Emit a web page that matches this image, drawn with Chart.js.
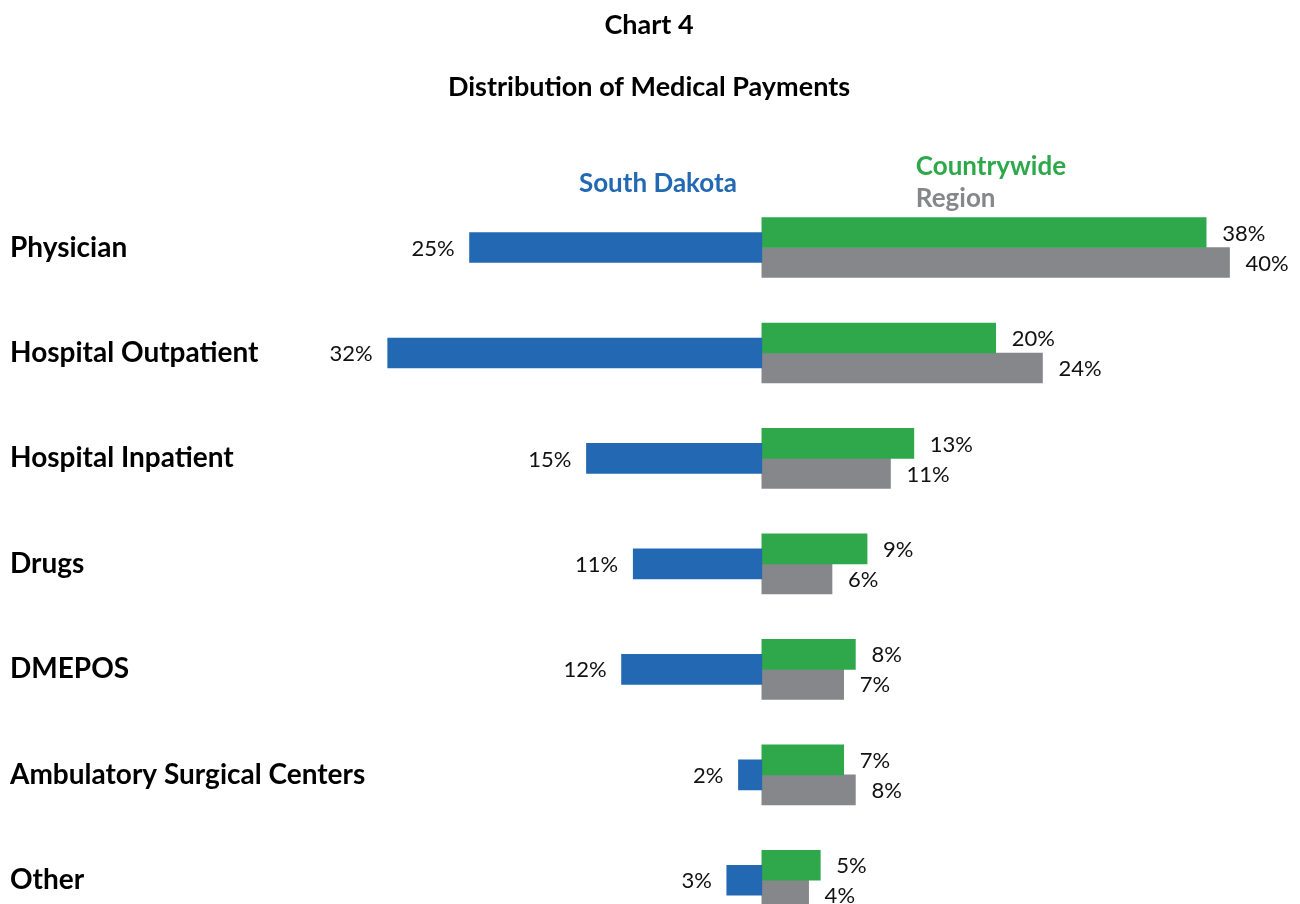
<!DOCTYPE html>
<html>
<head>
<meta charset="utf-8">
<script src="https://cdn.jsdelivr.net/npm/chart.js@4"></script>
<style>
  body { margin: 0; background: #fff; }
  .wrap { position: relative; width: 1300px; height: 904px; overflow: hidden; }
  canvas { position: absolute; left: 0; top: 0; }
</style>
</head>
<body>
<div class="wrap"><canvas id="chart" width="1300" height="940"></canvas></div>
<script>
const categories = ["Physician", "Hospital Outpatient", "Hospital Inpatient", "Drugs", "DMEPOS", "Ambulatory Surgical Centers", "Other"];
const southDakota = [25, 32, 15, 11, 12, 2, 3];
const countrywide = [38, 20, 13, 9, 8, 7, 5];
const region = [40, 24, 11, 6, 7, 8, 4];

const BLUE = "#2368b3";
const GREEN = "#2fa84b";
const GRAY = "#86878b";
const FONT = "Lato, 'Open Sans', sans-serif";

// percent labels at the end of each bar
const valueLabels = {
  id: "valueLabels",
  afterDatasetsDraw(chart) {
    const ctx = chart.ctx;
    ctx.save();
    ctx.font = "22px " + FONT;
    ctx.fillStyle = "#111";
    ctx.textBaseline = "middle";
    chart.data.datasets.forEach((ds, i) => {
      chart.getDatasetMeta(i).data.forEach((bar, j) => {
        const v = ds.data[j];
        const text = Math.abs(v) + "%";
        if (v < 0) {
          ctx.textAlign = "right";
          ctx.fillText(text, bar.x - 15, bar.y + 1);
        } else {
          ctx.textAlign = "left";
          ctx.fillText(text, bar.x + 16, bar.y + 1);
        }
      });
    });
    ctx.restore();
  },
};

// series names placed over the bars, like the original
const seriesNames = {
  id: "seriesNames",
  afterDraw(chart) {
    const ctx = chart.ctx;
    const zero = chart.scales.x.getPixelForValue(0);
    const ds = chart.data.datasets;
    ctx.save();
    ctx.font = "bold 26px " + FONT;
    ctx.textBaseline = "middle";
    ctx.textAlign = "right";
    ctx.fillStyle = ds[0].backgroundColor;
    ctx.fillText(ds[0].label, zero - 25, 184);
    ctx.textAlign = "left";
    ctx.fillStyle = ds[1].backgroundColor;
    ctx.fillText(ds[1].label, zero + 154, 167);
    ctx.fillStyle = ds[2].backgroundColor;
    ctx.fillText(ds[2].label, zero + 154, 199);
    ctx.restore();
  },
};

new Chart(document.getElementById("chart").getContext("2d"), {
  type: "bar",
  data: {
    labels: categories,
    datasets: [
      {
        label: "South Dakota",
        data: southDakota.map((v) => -v),
        backgroundColor: BLUE,
        grouped: false,
        barThickness: 30,
        maxBarThickness: 30,
      },
      {
        label: "Countrywide",
        data: countrywide,
        backgroundColor: GREEN,
        barThickness: 30,
      },
      {
        label: "Region",
        data: region,
        backgroundColor: GRAY,
        barThickness: 30,
      },
    ],
  },
  options: {
    indexAxis: "y",
    responsive: false,
    animation: false,
    layout: {
      padding: { left: 10, right: 12, top: 0, bottom: 7 },
    },
    scales: {
      x: {
        display: false,
        min: -33,
        max: 45,
      },
      y: {
        afterFit: (axis) => {
          // wide enough that the longest label is not clipped
          axis.width = 366;
          // labels may hang past the plot, don't let them shrink it
          axis.paddingTop = 0;
          axis.paddingBottom = 0;
        },
        grid: { display: false },
        border: { display: false },
        ticks: {
          autoSkip: false,
          crossAlign: "far",
          color: "#000",
          font: { family: FONT, size: 28, weight: "bold" },
        },
      },
    },
    plugins: {
      legend: { display: false },
      tooltip: { enabled: false },
      title: {
        display: true,
        text: "Chart 4",
        color: "#000",
        font: { family: FONT, size: 27, weight: "bold" },
        padding: { top: 9, bottom: 0 },
      },
      subtitle: {
        display: true,
        text: "Distribution of Medical Payments",
        color: "#000",
        font: { family: FONT, size: 27, weight: "bold" },
        padding: { top: 30, bottom: 91 },
      },
    },
  },
  plugins: [valueLabels, seriesNames],
});
</script>
</body>
</html>
